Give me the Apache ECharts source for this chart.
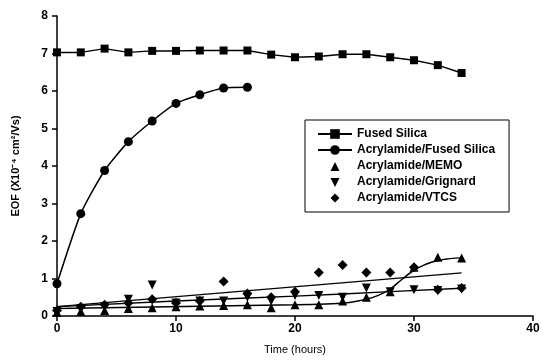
<!DOCTYPE html>
<html><head><meta charset="utf-8">
<script src="https://cdn.jsdelivr.net/npm/echarts@6/dist/echarts.min.js"></script>
<style>html,body{margin:0;padding:0;background:#fff}#c{width:543px;height:360px}</style>
</head><body><div id="c"></div>
<script>
var hours = [0,2,4,6,8,10,12,14,16,18,20,22,24,26,28,30,32,34];
var fusedSilica = [7.03,7.03,7.13,7.03,7.07,7.07,7.08,7.08,7.08,6.97,6.9,6.92,6.98,6.98,6.9,6.82,6.69,6.48];
var acrylFused = [0.86,2.73,3.88,4.65,5.2,5.67,5.9,6.08,6.1];
var memo = [0.1,0.12,0.15,0.2,0.22,0.25,0.27,0.28,0.3,0.22,0.3,0.3,0.4,0.5,0.65,1.3,1.57,1.55];
var grignard = [0.12,0.2,0.25,0.45,0.83,0.35,0.4,0.4,0.5,0.4,0.55,0.55,0.5,0.75,0.65,0.7,0.68,0.72];
var vtcs = [0.15,0.25,0.3,0.35,0.45,0.35,0.4,0.92,0.6,0.5,0.65,1.16,1.36,1.16,1.16,1.3,0.7,0.75];
var fitVtcsX = [0,34], fitVtcsY = [0.25,1.15];
var fitGrigX = [0,10,20,28,34], fitGrigY = [0.25,0.4,0.53,0.65,0.74];
var fitMemoX = [0,12,20,24,26,27,28,29,30,31,32,33,34];
var fitMemoY = [0.2,0.26,0.3,0.34,0.45,0.55,0.72,0.98,1.22,1.38,1.48,1.53,1.55];

function pairs(xs, ys){ return ys.map(function(v,i){return [xs[i], v];}); }
var black = '#000';
// legend icons padded inside a 34x12 box so the glyph is not stretched
var icoUp = 'path://M0,0M34,12M12.5,11L17,2L21.5,11Z';
var icoDown = 'path://M0,0M34,12M12.5,2L17,11L21.5,2Z';
var icoDia = 'path://M0,0M34,12M17,1.5L21.5,6L17,10.5L12.5,6Z';
var chart = echarts.init(document.getElementById('c'));
var lineFit = function(xs, ys){
  return {type:'line', data:pairs(xs,ys), smooth:true, showSymbol:false, symbol:'none',
    lineStyle:{color:black,width:1.5}, silent:true, z:1};
};
var mk = {color:black, opacity:1};
chart.setOption({
  animation:false,
  textStyle:{fontFamily:'Liberation Sans', color:black},
  grid:{left:57,right:10,top:16,bottom:42},
  xAxis:{type:'value',min:0,max:40,interval:10,
    name:'Time (hours)',nameLocation:'middle',nameGap:28,
    nameTextStyle:{fontSize:11,color:black},
    axisLine:{lineStyle:{color:black,width:1.5}},
    axisTick:{show:true,length:5,lineStyle:{color:black,width:1.5}},
    axisLabel:{fontSize:12,fontWeight:'bold',color:black,margin:7},
    splitLine:{show:false}},
  yAxis:{type:'value',min:0,max:8,interval:1,
    name:'EOF (X10\u207B\u2074 cm\u00B2/Vs)',nameLocation:'middle',nameGap:36,
    nameTextStyle:{fontSize:11,fontWeight:'bold',color:black},
    axisLine:{show:true,lineStyle:{color:black,width:1.5}},
    axisTick:{show:true,length:5,lineStyle:{color:black,width:1.5}},
    axisLabel:{fontSize:12,fontWeight:'bold',color:black,margin:9},
    splitLine:{show:false}},
  legend:{left:305,top:120,orient:'vertical',
    borderColor:black,borderWidth:1,padding:[8,14,8,12],itemGap:4,
    itemWidth:34,itemHeight:12,
    itemStyle:{opacity:1},
    textStyle:{fontSize:12,fontWeight:'bold',color:black},
    data:[
      {name:'Fused Silica'},
      {name:'Acrylamide/Fused Silica'},
      {name:'Acrylamide/MEMO',icon:icoUp},
      {name:'Acrylamide/Grignard',icon:icoDown},
      {name:'Acrylamide/VTCS',icon:icoDia}]},
  series:[
    {name:'Fused Silica',type:'line',data:pairs(hours,fusedSilica),symbol:'rect',symbolSize:8,
      itemStyle:mk,lineStyle:{color:black,width:1.5},z:3},
    {name:'Acrylamide/Fused Silica',type:'line',data:pairs(hours,acrylFused),symbol:'circle',symbolSize:9,smooth:0.2,
      itemStyle:mk,lineStyle:{color:black,width:1.5},z:3},
    {name:'Acrylamide/MEMO',type:'scatter',data:pairs(hours,memo),symbol:'triangle',symbolSize:9,itemStyle:mk,z:3},
    {name:'Acrylamide/Grignard',type:'scatter',data:pairs(hours,grignard),symbol:'triangle',symbolRotate:180,symbolSize:9,itemStyle:mk,z:3},
    {name:'Acrylamide/VTCS',type:'scatter',data:pairs(hours,vtcs),symbol:'diamond',symbolSize:10,itemStyle:mk,z:3},
    lineFit(fitVtcsX,fitVtcsY),
    lineFit(fitGrigX,fitGrigY),
    lineFit(fitMemoX,fitMemoY)
  ]
});
</script></body></html>
